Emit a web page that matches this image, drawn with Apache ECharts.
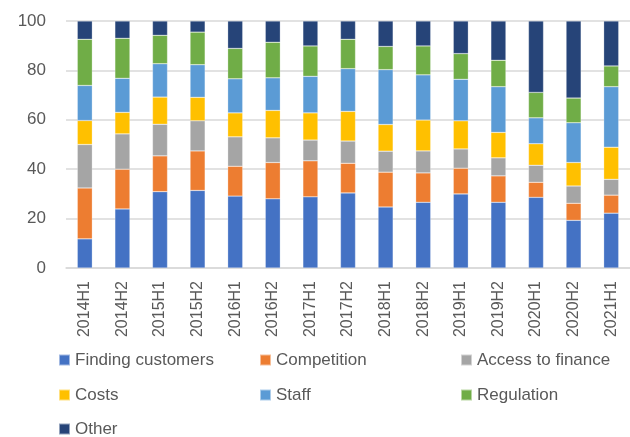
<!DOCTYPE html>
<html>
<head>
<meta charset="utf-8">
<script src="https://cdn.jsdelivr.net/npm/echarts@6/dist/echarts.min.js"></script>
<style>
html,body{margin:0;padding:0;background:#fff;}
#chart{width:630px;height:437px;}
</style>
</head>
<body>
<div id="chart"></div>
<script>
var categories = ['2014H1','2014H2','2015H1','2015H2','2016H1','2016H2','2017H1','2017H2','2018H1','2018H2','2019H1','2019H2','2020H1','2020H2','2021H1'];
var findingCustomers = [11.8,23.9,30.9,31.4,29.1,28.0,28.8,30.4,24.7,26.6,30.0,26.6,28.6,19.3,22.2];
var competition      = [20.6,16.1,14.5,16.0,12.1,14.7,14.6,12.0,14.1,11.9,10.4,10.7,6.1,6.9,7.3];
var accessToFinance  = [17.6,14.3,12.8,12.2,11.9,10.0,8.4,9.0,8.5,8.9,7.8,7.3,6.9,7.0,6.4];
var costs            = [9.7,8.7,11.0,9.5,9.7,11.1,11.0,12.0,10.8,12.5,11.4,10.3,8.7,9.5,13.0];
var staff            = [14.2,13.8,13.5,13.2,13.8,13.2,14.8,17.3,22.2,18.3,16.8,18.5,10.5,16.1,24.5];
var regulation       = [18.7,16.2,11.5,13.2,12.3,14.4,12.3,11.9,9.4,11.7,10.4,10.7,10.3,10.0,8.4];
var other            = [7.4,7.0,5.8,4.5,11.1,8.6,10.1,7.4,10.3,10.1,13.2,15.9,28.9,31.2,18.2];
var yTicks = [0,20,40,60,80,100];

var seriesDefs = [
  ['Finding customers', findingCustomers, '#4472C4'],
  ['Competition', competition, '#ED7D31'],
  ['Access to finance', accessToFinance, '#A5A5A5'],
  ['Costs', costs, '#FFC000'],
  ['Staff', staff, '#5B9BD5'],
  ['Regulation', regulation, '#70AD47'],
  ['Other', other, '#264478']
];

var chart = echarts.init(document.getElementById('chart'), null, {renderer:'canvas'});
var legendBase = {
  orient: 'horizontal', padding: 0, itemWidth: 11, itemHeight: 11, itemGap: 0,
  icon: 'rect',
  textStyle: {fontFamily: 'Liberation Sans', fontSize: 17, color: '#595959', lineHeight: 20}
};
function lg(left, top, name){
  return Object.assign({}, legendBase, {left: left, top: top, data: [name]});
}
var option = {
  animation: false,
  backgroundColor: '#fff',
  grid: {left: 66, top: 21, width: 575, height: 247, containLabel: false},
  legend: [
    lg(58, 350, 'Finding customers'),
    lg(259, 350, 'Competition'),
    lg(460, 350, 'Access to finance'),
    lg(58, 385, 'Costs'),
    lg(259, 385, 'Staff'),
    lg(460, 385, 'Regulation'),
    lg(58, 419, 'Other')
  ],
  xAxis: {
    type: 'category', data: categories,
    axisTick: {show: false},
    axisLine: {lineStyle: {color: '#d9d9d9', width: 1.5}},
    axisLabel: {rotate: 90, interval: 0, margin: 13, fontFamily: 'Liberation Sans', fontSize: 16, color: '#595959'}
  },
  yAxis: {
    type: 'value', min: yTicks[0], max: yTicks[yTicks.length-1], interval: 20,
    axisLine: {show: false}, axisTick: {show: false},
    axisLabel: {margin: 20, fontFamily: 'Liberation Sans', fontSize: 17, color: '#595959'},
    splitLine: {lineStyle: {color: '#d9d9d9', width: 1.5}}
  },
  series: seriesDefs.map(function(d){
    return {
      name: d[0], type: 'bar', stack: 'total', data: d[1], barWidth: '40%',
      itemStyle: {color: d[2], borderColor: 'rgba(255,255,255,0.5)', borderWidth: 0.5}
    };
  })
};
chart.setOption(option);
</script>
</body>
</html>
